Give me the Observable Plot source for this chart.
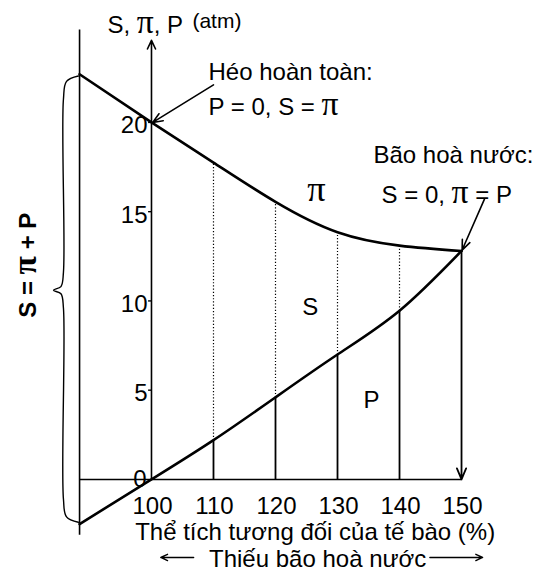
<!DOCTYPE html>
<html>
<head>
<meta charset="utf-8">
<script src="https://cdn.jsdelivr.net/npm/d3@7"></script>
<script src="https://cdn.jsdelivr.net/npm/@observablehq/plot@0.6"></script>
<style>
  html, body { margin: 0; padding: 0; background: #fff; }
  svg { display: block; }
</style>
</head>
<body>
<div id="chart"></div>
<script>
// ---- data ----
const xTicks = [100, 110, 120, 130, 140, 150];
const yTicks = [0, 5, 10, 15, 20];
const volume = [88.4, 100, 110, 120, 130, 140, 150];          // relative cell volume (%)
const piValues = [22.7, 20, 17.75, 15.55, 13.85, 13.1, 12.8]; // osmotic pressure π (atm)
const pValues = [-2.5, 0, 2.2, 4.6, 7.0, 9.45, 12.8];         // turgor pressure P (atm)
const dividerX = [110, 120, 130, 140];

const curve = volume.map((v, i) => ({x: v, pi: piValues[i], p: pValues[i]}));
const dividers = dividerX.map(v => curve.find(d => d.x === v));
const last = curve[curve.length - 1];

const FONT = "Liberation Sans, Arial, sans-serif";
const FS = 24;

const chart = Plot.plot({
  width: 534,
  height: 573,
  margin: 0,
  style: {fontFamily: FONT, background: "#fff", color: "#000"},
  x: {domain: [75.65, 161.77], axis: null},
  y: {domain: [-5.27, 26.83], axis: null},
  marks: [
    // left vertical line
    Plot.link([0], {x1: 88.4, x2: 88.4, y1: -3.1, y2: 25.2, stroke: "#000", strokeWidth: 1.6}),
    // x baseline
    Plot.link([0], {x1: 88.4, x2: 150, y1: 0, y2: 0, stroke: "#000", strokeWidth: 1.6}),
    // y axis with arrow
    Plot.arrow([0], {x1: 100, x2: 100, y1: 0, y2: 24.6, stroke: "#000", strokeWidth: 1.6, headLength: 9, headAngle: 50}),
    // y tick marks
    Plot.link(yTicks.filter(t => t > 0), {x1: 99.45, x2: 100, y1: d => d, y2: d => d, stroke: "#000", strokeWidth: 1.4}),
    // y tick labels
    Plot.text(yTicks.filter(t => t > 0), {x: 100, y: d => d, text: d => String(d), textAnchor: "end", lineAnchor: "bottom", dx: -4, dy: 11, fontSize: FS}),
    Plot.text(yTicks.filter(t => t === 0), {x: 100, y: d => d, text: d => String(d), textAnchor: "end", lineAnchor: "bottom", dx: -5, dy: 8, fontSize: FS}),
    // x tick labels
    Plot.text(xTicks, {x: d => d, y: -1.96, text: d => String(d), textAnchor: "middle", lineAnchor: "bottom", dx: 1, fontSize: FS}),
    // dotted parts of dividers (P -> π)
    Plot.link(dividers, {x1: "x", x2: "x", y1: "p", y2: "pi", stroke: "#000", strokeWidth: 1.2, strokeDasharray: "1.2,2"}),
    // solid parts of dividers (0 -> P)
    Plot.link(dividers, {x1: "x", x2: "x", y1: 0, y2: "p", stroke: "#000", strokeWidth: 1.8}),
    // 150 arrow down from saturation point
    Plot.arrow([last], {x1: "x", x2: "x", y1: "pi", y2: 0, stroke: "#000", strokeWidth: 1.8, headLength: 10, headAngle: 45}),
    // π curve
    Plot.line(curve, {x: "x", y: "pi", curve: "natural", stroke: "#000", strokeWidth: 2.6}),
    // P line
    Plot.line(curve, {x: "x", y: "p", curve: "natural", stroke: "#000", strokeWidth: 2.6}),
    // brace
    Plot.line([
      [88.2, 22.6], [86.3, 22.3], [85.8, 21.3], [85.8, 11.6], [85.4, 10.8], [84.2, 10.6],
      [85.4, 10.4], [85.8, 9.6], [85.8, -1.1], [86.3, -2.1], [88.2, -2.4]
    ], {x: d => d[0], y: d => d[1], curve: "catmull-rom", stroke: "#000", strokeWidth: 1.4}),
    // rotated side label
    Plot.text(["S = π + P"], {x: 81.4, y: 12.0, text: d => d, rotate: -90, textAnchor: "middle", lineAnchor: "bottom", fontSize: FS, fontWeight: "bold"}),
    // axis title
    Plot.text(["S, π, P"], {x: 92.9, y: 25.0, text: d => d, textAnchor: "start", lineAnchor: "bottom", fontSize: FS}),
    Plot.text(["(atm)"], {x: 106.6, y: 25.3, text: d => d, textAnchor: "start", lineAnchor: "bottom", fontSize: 21}),
    // wilting annotation
    Plot.text(["Héo hoàn toàn:"], {x: 109.2, y: 22.4, text: d => d, textAnchor: "start", lineAnchor: "bottom", fontSize: FS}),
    Plot.text(["P = 0, S = π"], {x: 109.2, y: 20.4, text: d => d, textAnchor: "start", lineAnchor: "bottom", fontSize: FS}),
    Plot.arrow([0], {x1: 110.0, y1: 22.1, x2: 100.2, y2: 20.0, stroke: "#000", strokeWidth: 1.6, headLength: 10, headAngle: 45}),
    // saturation annotation
    Plot.text(["Bão hoà nước:"], {x: 135.8, y: 17.7, text: d => d, textAnchor: "start", lineAnchor: "bottom", fontSize: FS}),
    Plot.text(["S = 0, π = P"], {x: 137.1, y: 15.5, text: d => d, textAnchor: "start", lineAnchor: "bottom", fontSize: FS}),
    Plot.arrow([0], {x1: 153.7, y1: 15.7, x2: 150.1, y2: 12.85, stroke: "#000", strokeWidth: 1.6, headLength: 10, headAngle: 45}),
    // region labels
    Plot.text(["π"], {x: 126.6, y: 15.6, text: d => d, textAnchor: "middle", lineAnchor: "bottom", fontSize: 26}),
    Plot.text(["S"], {x: 125.6, y: 9.2, text: d => d, textAnchor: "middle", lineAnchor: "bottom", fontSize: FS}),
    Plot.text(["P"], {x: 135.5, y: 4.0, text: d => d, textAnchor: "middle", lineAnchor: "bottom", fontSize: FS}),
    // x axis titles
    Plot.text(["Thể tích tương đối của tế bào (%)"], {x: 126.4, y: -3.42, text: d => d, textAnchor: "middle", lineAnchor: "bottom", fontSize: FS}),
    Plot.text(["Thiếu bão hoà nước"], {x: 126.8, y: -4.93, text: d => d, textAnchor: "middle", lineAnchor: "bottom", fontSize: FS}),
    Plot.arrow([0], {x1: 106.8, x2: 101.5, y1: -4.37, y2: -4.37, stroke: "#000", strokeWidth: 1.4, headLength: 8, headAngle: 50}),
    Plot.arrow([0], {x1: 144.9, x2: 153.4, y1: -4.37, y2: -4.37, stroke: "#000", strokeWidth: 1.4, headLength: 8, headAngle: 50})
  ]
});

// render π in a serif face (like the reference's Symbol π)
chart.querySelectorAll("text").forEach(t => {
  const els = t.querySelectorAll("tspan").length ? [...t.querySelectorAll("tspan")] : [t];
  els.forEach(el => {
    const s = el.textContent;
    if (!s.includes("π")) return;
    el.textContent = "";
    s.split(/(π)/).forEach(part => {
      if (!part) return;
      const ts = document.createElementNS("http://www.w3.org/2000/svg", "tspan");
      ts.textContent = part;
      if (part === "π") {
        ts.setAttribute("font-family", "Liberation Serif, Times New Roman, serif");
        ts.setAttribute("font-size", "1.4em");
      }
      el.appendChild(ts);
    });
  });
});

document.getElementById("chart").appendChild(chart);
</script>
</body>
</html>
